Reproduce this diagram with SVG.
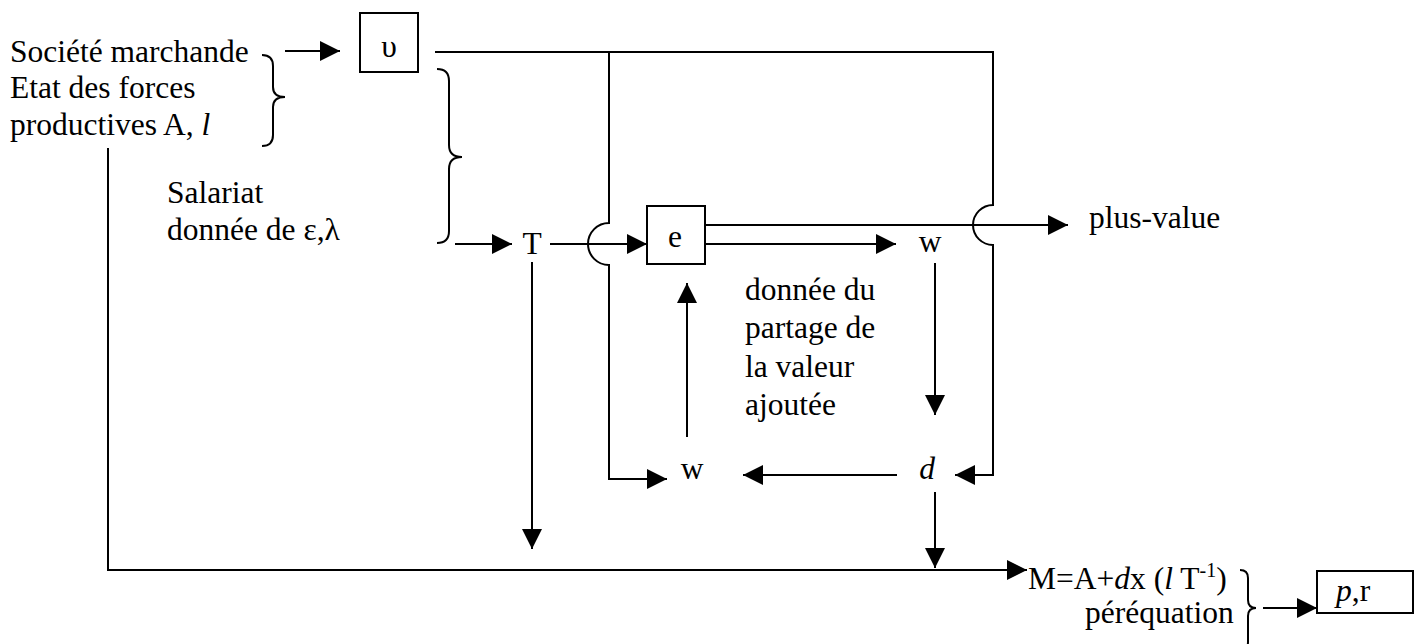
<svg xmlns="http://www.w3.org/2000/svg" width="1425" height="644" viewBox="0 0 1425 644">
<style>
text{font-family:"Liberation Serif","Times New Roman",serif;font-size:31.5px;fill:#000}
.it{font-style:italic}
.ln{fill:none;stroke:#000;stroke-width:2}
.bx{fill:#fff;stroke:#000;stroke-width:2}
.br{fill:none;stroke:#000;stroke-width:2}
</style>
<defs>
<marker id="ah" viewBox="0 0 20 20" refX="20" refY="10" markerWidth="20" markerHeight="20" markerUnits="userSpaceOnUse" orient="auto">
<path d="M0,0 L20,10 L0,20 z" fill="#000"/>
</marker>
</defs>
<rect width="1425" height="644" fill="#fff"/>

<g id="connectors">
<line class="ln" x1="285" y1="51" x2="340" y2="51" marker-end="url(#ah)"/>
<path class="ln" d="M435,52 L993,52 L993,205 A20,20 0 0 0 993,245 L993,475 L955,475" marker-end="url(#ah)"/>
<path class="ln" d="M609,52 L609,223 A21,21 0 0 0 609,265 L609,479 L667,479" marker-end="url(#ah)"/>
<line class="ln" x1="455" y1="244" x2="512" y2="244" marker-end="url(#ah)"/>
<line class="ln" x1="550" y1="244" x2="647" y2="244" marker-end="url(#ah)"/>
<line class="ln" x1="705" y1="225" x2="1068" y2="225" marker-end="url(#ah)"/>
<line class="ln" x1="705" y1="244" x2="896" y2="244" marker-end="url(#ah)"/>
<line class="ln" x1="532" y1="262" x2="532" y2="549" marker-end="url(#ah)"/>
<line class="ln" x1="687" y1="437" x2="687" y2="283" marker-end="url(#ah)"/>
<line class="ln" x1="935" y1="263" x2="935" y2="415" marker-end="url(#ah)"/>
<line class="ln" x1="897" y1="475" x2="743" y2="475" marker-end="url(#ah)"/>
<line class="ln" x1="935" y1="492" x2="935" y2="568" marker-end="url(#ah)"/>
<path class="ln" d="M108,148 L108,570 L1027,570" marker-end="url(#ah)"/>
<line class="ln" x1="1263" y1="608" x2="1317" y2="608" marker-end="url(#ah)"/>
</g>

<g id="societe">
<text x="10" y="62">Société marchande</text>
<text x="10" y="98">Etat des forces</text>
<text x="10" y="135">productives A, <tspan class="it">l</tspan></text>
<path class="br" d="M262,55 Q273,55 273,66 L273,87 Q273,97 285,97 Q273,97 273,107 L273,135 Q273,146 262,146"/>
</g>

<g id="salariat">
<text x="167" y="203">Salariat</text>
<text x="167" y="240">donnée de ε,λ</text>
<path class="br" d="M437,69 Q449,69 449,81 L449,145 Q449,157 462,157 Q449,157 449,169 L449,231 Q449,243 437,243"/>
</g>

<g id="upsilon">
<rect class="bx" x="360" y="13" width="58" height="59"/>
<text x="389" y="57" text-anchor="middle">υ</text>
</g>

<g id="T">
<text x="532" y="254" text-anchor="middle">T</text>
</g>

<g id="e">
<rect class="bx" x="647" y="206" width="58" height="58"/>
<text x="675" y="247" text-anchor="middle">e</text>
</g>

<g id="w-top">
<text x="930" y="252" text-anchor="middle">w</text>
</g>

<g id="plus-value">
<text x="1089" y="228">plus-value</text>
</g>

<g id="partage">
<text x="745" y="300">donnée du</text>
<text x="745" y="338">partage de</text>
<text x="745" y="377">la valeur</text>
<text x="745" y="415">ajoutée</text>
</g>

<g id="w-bottom">
<text x="692" y="479" text-anchor="middle">w</text>
</g>

<g id="d">
<text x="927" y="479" text-anchor="middle" class="it">d</text>
</g>

<g id="M">
<text x="1028" y="589">M=A+<tspan class="it">d</tspan>x (<tspan class="it">l</tspan> T<tspan dy="-12" font-size="20">-1</tspan><tspan dy="12">)</tspan></text>
<text x="1085" y="623">péréquation</text>
<path class="br" d="M1240,570 Q1248,570 1248,578 L1248,600 Q1248,608 1256,608 Q1248,608 1248,616 L1248,642 Q1248,650 1240,650"/>
</g>

<g id="pr">
<rect class="bx" x="1317" y="571" width="96" height="42"/>
<text x="1336" y="601"><tspan class="it">p</tspan>,r</text>
</g>
</svg>
